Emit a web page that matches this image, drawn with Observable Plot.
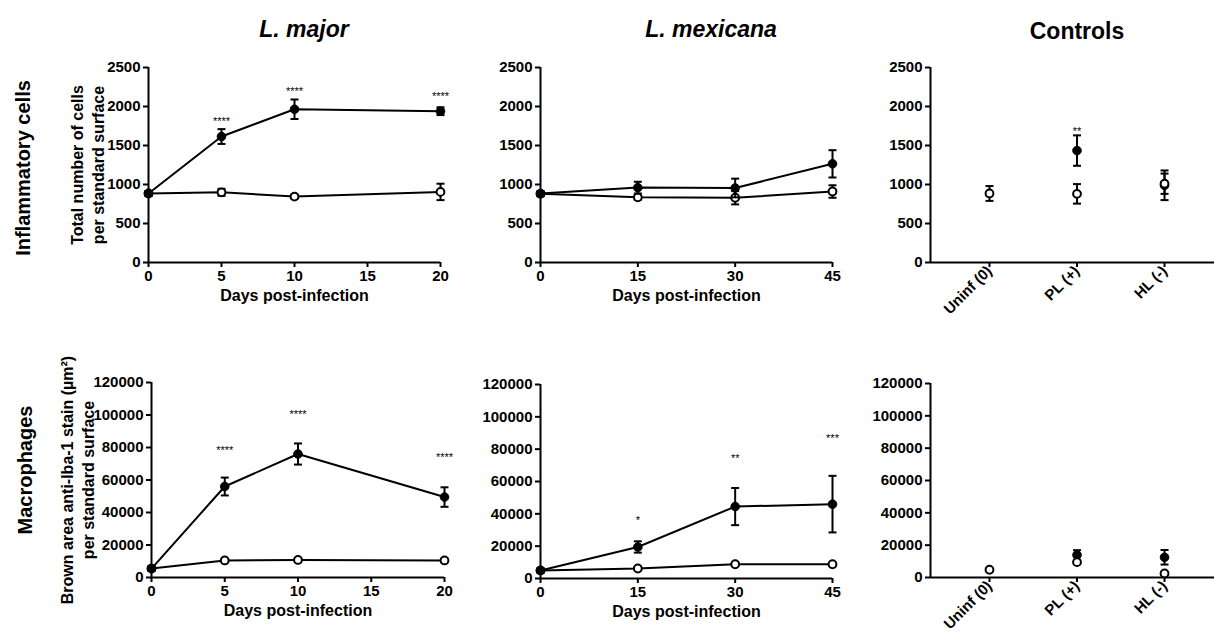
<!DOCTYPE html>
<html><head><meta charset="utf-8">
<script src="https://cdn.jsdelivr.net/npm/d3@7"></script>
<script src="https://cdn.jsdelivr.net/npm/@observablehq/plot@0.6"></script>
<style>
body{margin:0;background:#fff;}
#wrap{position:relative;width:1214px;height:637px;overflow:hidden;font-family:"Liberation Sans",Arial,Helvetica,sans-serif;color:#000;background:#fff;}
.panel{position:absolute;}
.title{position:absolute;transform:translate(-50%,-50%);font-weight:bold;font-size:23px;white-space:nowrap;line-height:1;}
.row{position:absolute;transform:translate(-50%,-50%) rotate(-90deg);font-weight:bold;font-size:20px;white-space:nowrap;line-height:1;}
</style></head><body>
<div id="wrap">
  <div class="title" style="left:304px;top:29px;font-style:italic">L. major</div>
  <div class="title" style="left:711px;top:29px;font-style:italic">L. mexicana</div>
  <div class="title" style="left:1077px;top:31px;">Controls</div>
  <div class="row" style="left:23px;top:168px;">Inflammatory cells</div>
  <div class="row" style="left:25px;top:470px;">Macrophages</div>
</div>
<script>
// ---------- data ----------
const majorDays = [0, 5, 10, 20];
const mexDays = [0, 15, 30, 45];
const controlGroups = ["Uninf (0)", "PL (+)", "HL (-)"];
const controlIndex = [0, 1, 2];
const majorTicks = [0, 5, 10, 15, 20];
const mexTicks = [0, 15, 30, 45];
const cellTicks = [0, 500, 1000, 1500, 2000, 2500];
const macroTicks = [0, 20000, 40000, 60000, 80000, 100000, 120000];

// Inflammatory cells (total number per standard surface)
const majorCellsInfected = [885, 1615, 1965, 1940];
const majorCellsInfectedSem = [30, 95, 125, 50];
const majorCellsUninfected = [885, 900, 845, 905];
const majorCellsUninfectedSem = [30, 45, 25, 105];
const majorCellsStarDays = [5, 10, 20];
const majorCellsStarLabels = ["****", "****", "****"];
const majorCellsStarY = [1846, 2231, 2167];

const mexCellsInfected = [885, 960, 955, 1265];
const mexCellsInfectedSem = [30, 75, 120, 175];
const mexCellsUninfected = [880, 835, 830, 910];
const mexCellsUninfectedSem = [30, 30, 85, 80];

const ctrlCellsFilled = [null, 1435, 990];
const ctrlCellsFilledSem = [null, 195, 190];
const ctrlCellsOpen = [885, 880, 1010];
const ctrlCellsOpenSem = [95, 125, 130];
const ctrlCellsStarIdx = [1];
const ctrlCellsStarLabels = ["**"];
const ctrlCellsStarY = [1718];

// Macrophages (brown area anti-Iba-1 stain, µm²)
const majorMacroInfected = [5500, 56000, 76000, 49500];
const majorMacroInfectedSem = [1500, 5500, 6500, 6000];
const majorMacroUninfected = [5500, 10500, 10800, 10500];
const majorMacroUninfectedSem = [1000, 1000, 800, 1000];
const majorMacroStarDays = [5, 10, 20];
const majorMacroStarLabels = ["****", "****", "****"];
const majorMacroStarY = [80000, 102000, 75500];

const mexMacroInfected = [5000, 19500, 44500, 46000];
const mexMacroInfectedSem = [1500, 3500, 11500, 17500];
const mexMacroUninfected = [5000, 6200, 8800, 8800];
const mexMacroUninfectedSem = [800, 800, 800, 800];
const mexMacroStarDays = [15, 30, 45];
const mexMacroStarLabels = ["*", "**", "***"];
const mexMacroStarY = [37700, 76000, 88500];

const ctrlMacroFilled = [null, 13900, 12500];
const ctrlMacroFilledSem = [null, 3000, 4500];
const ctrlMacroOpen = [4800, 9500, 2500];
const ctrlMacroOpenSem = [500, 1000, 800];

// ---------- drawing ----------
const FONT = '"Liberation Sans", Arial, Helvetica, sans-serif';
const cap = { draw(ctx, size) { const r = Math.sqrt(size / Math.PI); ctx.moveTo(-r, 0); ctx.lineTo(r, 0); } };

function panel(cfg) {
  const toRows = (m, e) => cfg.xs.map((x, i) => ({x, m: m[i], e: e[i]})).filter(d => d.m != null);
  const fRows = toRows(cfg.filled, cfg.filledSem);
  const oRows = toRows(cfg.open, cfg.openSem);
  const series = (rows, filled) => [
    cfg.connect ? Plot.line(rows, {x: "x", y: "m", stroke: "black", strokeWidth: 2}) : null,
    Plot.ruleX(rows, {x: "x", y1: d => d.m - d.e, y2: d => d.m + d.e, stroke: "black", strokeWidth: 2}),
    Plot.dot(rows, {x: "x", y: d => d.m + d.e, symbol: cap, r: 4, fill: "none", stroke: "black", strokeWidth: 2}),
    Plot.dot(rows, {x: "x", y: d => d.m - d.e, symbol: cap, r: 4, fill: "none", stroke: "black", strokeWidth: 2}),
    Plot.dot(rows, {x: "x", y: "m", r: filled ? 4.3 : 3.9, fill: filled ? "black" : "white", stroke: "black", strokeWidth: filled ? 1 : 2})
  ];
  const starRows = (cfg.starX || []).map((x, i) => ({x, y: cfg.starY[i], label: cfg.starLabels[i]}));
  const g = cfg.geom;
  const tickFont = 15;
  const marks = [
    Plot.ruleY([0], {stroke: "black", strokeWidth: 2}),
    Plot.ruleX([cfg.xDomain[0]], {stroke: "black", strokeWidth: 2}),
    Plot.axisY({ticks: cfg.yTicks, tickFormat: d3.format("d"), tickSize: 5, tickPadding: 3, fontSize: tickFont, fontWeight: "bold", strokeWidth: 2, label: null}),
    Plot.axisX({ticks: cfg.xTicks, tickFormat: cfg.xTickFormat || d3.format("d"), tickSize: 5, tickPadding: cfg.tickRotate ? 1 : 3, tickRotate: cfg.tickRotate || 0, fontSize: tickFont, fontWeight: "bold", strokeWidth: 2, label: null}),
    ...(cfg.filledFirst ? [...series(fRows, true), ...series(oRows, false)] : [...series(oRows, false), ...series(fRows, true)]),
    Plot.text(starRows, {x: "x", y: "y", text: "label", fontSize: 11, fontWeight: "normal", fill: "black", dy: 3}),
    cfg.yLabel ? Plot.text([cfg.yLabel], {frameAnchor: "left", textAnchor: "middle", rotate: -90, dx: cfg.yLabelDx, fontSize: 16, fontWeight: "bold", lineHeight: 1.3}) : null,
    cfg.xLabel ? Plot.text([cfg.xLabel], {frameAnchor: "bottom", dy: 38, fontSize: 16, fontWeight: "bold"}) : null
  ];
  const svg = Plot.plot({
    width: g.width, height: g.height,
    marginLeft: g.ml, marginRight: g.mr, marginTop: g.mt, marginBottom: g.mb,
    x: {type: "linear", domain: cfg.xDomain},
    y: {type: "linear", domain: cfg.yDomain},
    style: {fontFamily: FONT, fontSize: "15px", fontWeight: "bold", color: "black", background: "transparent", overflow: "visible"},
    marks
  });
  const div = document.createElement("div");
  div.className = "panel";
  div.style.left = g.left + "px";
  div.style.top = g.top + "px";
  div.appendChild(svg);
  document.getElementById("wrap").appendChild(div);
}

const ctrlDomain = [-0.674, 2.571];
const ctrlFmt = i => controlGroups[i];

panel({xs: majorDays, filled: majorCellsInfected, filledSem: majorCellsInfectedSem, open: majorCellsUninfected, openSem: majorCellsUninfectedSem,
  connect: true, starX: majorCellsStarDays, starY: majorCellsStarY, starLabels: majorCellsStarLabels,
  xDomain: [0, 20], xTicks: majorTicks, yDomain: [0, 2500], yTicks: cellTicks,
  yLabel: "Total number of cells\nper standard surface", yLabelDx: -61.5, xLabel: "Days post-infection",
  geom: {left: 0, top: 0, width: 460, height: 320, ml: 148, mr: 20, mt: 67, mb: 58}});

panel({xs: mexDays, filled: mexCellsInfected, filledSem: mexCellsInfectedSem, open: mexCellsUninfected, openSem: mexCellsUninfectedSem,
  connect: true, xDomain: [0, 45], xTicks: mexTicks, yDomain: [0, 2500], yTicks: cellTicks,
  xLabel: "Days post-infection",
  geom: {left: 460, top: 0, width: 380, height: 320, ml: 80, mr: 8, mt: 67, mb: 58}});

panel({xs: controlIndex, filled: ctrlCellsFilled, filledSem: ctrlCellsFilledSem, open: ctrlCellsOpen, openSem: ctrlCellsOpenSem,
  connect: false, filledFirst: true, starX: ctrlCellsStarIdx, starY: ctrlCellsStarY, starLabels: ctrlCellsStarLabels,
  xDomain: ctrlDomain, xTicks: controlIndex, xTickFormat: ctrlFmt, tickRotate: -45, yDomain: [0, 2500], yTicks: cellTicks,
  geom: {left: 840, top: 0, width: 374, height: 320, ml: 90, mr: 0, mt: 67, mb: 58}});

panel({xs: majorDays, filled: majorMacroInfected, filledSem: majorMacroInfectedSem, open: majorMacroUninfected, openSem: majorMacroUninfectedSem,
  connect: true, starX: majorMacroStarDays, starY: majorMacroStarY, starLabels: majorMacroStarLabels,
  xDomain: [0, 20], xTicks: majorTicks, yDomain: [0, 120000], yTicks: macroTicks,
  yLabel: "Brown area anti-Iba-1 stain (µm²)\nper standard surface", yLabelDx: -74.5, xLabel: "Days post-infection",
  geom: {left: 0, top: 320, width: 460, height: 317, ml: 151, mr: 16, mt: 62, mb: 60}});

panel({xs: mexDays, filled: mexMacroInfected, filledSem: mexMacroInfectedSem, open: mexMacroUninfected, openSem: mexMacroUninfectedSem,
  connect: true, starX: mexMacroStarDays, starY: mexMacroStarY, starLabels: mexMacroStarLabels,
  xDomain: [0, 45], xTicks: mexTicks, yDomain: [0, 120000], yTicks: macroTicks,
  xLabel: "Days post-infection",
  geom: {left: 460, top: 320, width: 380, height: 317, ml: 80, mr: 8, mt: 64, mb: 59}});

panel({xs: controlIndex, filled: ctrlMacroFilled, filledSem: ctrlMacroFilledSem, open: ctrlMacroOpen, openSem: ctrlMacroOpenSem,
  connect: false, filledFirst: true,
  xDomain: ctrlDomain, xTicks: controlIndex, xTickFormat: ctrlFmt, tickRotate: -45, yDomain: [0, 120000], yTicks: macroTicks,
  geom: {left: 840, top: 320, width: 374, height: 317, ml: 90, mr: 0, mt: 63, mb: 60}});
</script>
</body></html>
